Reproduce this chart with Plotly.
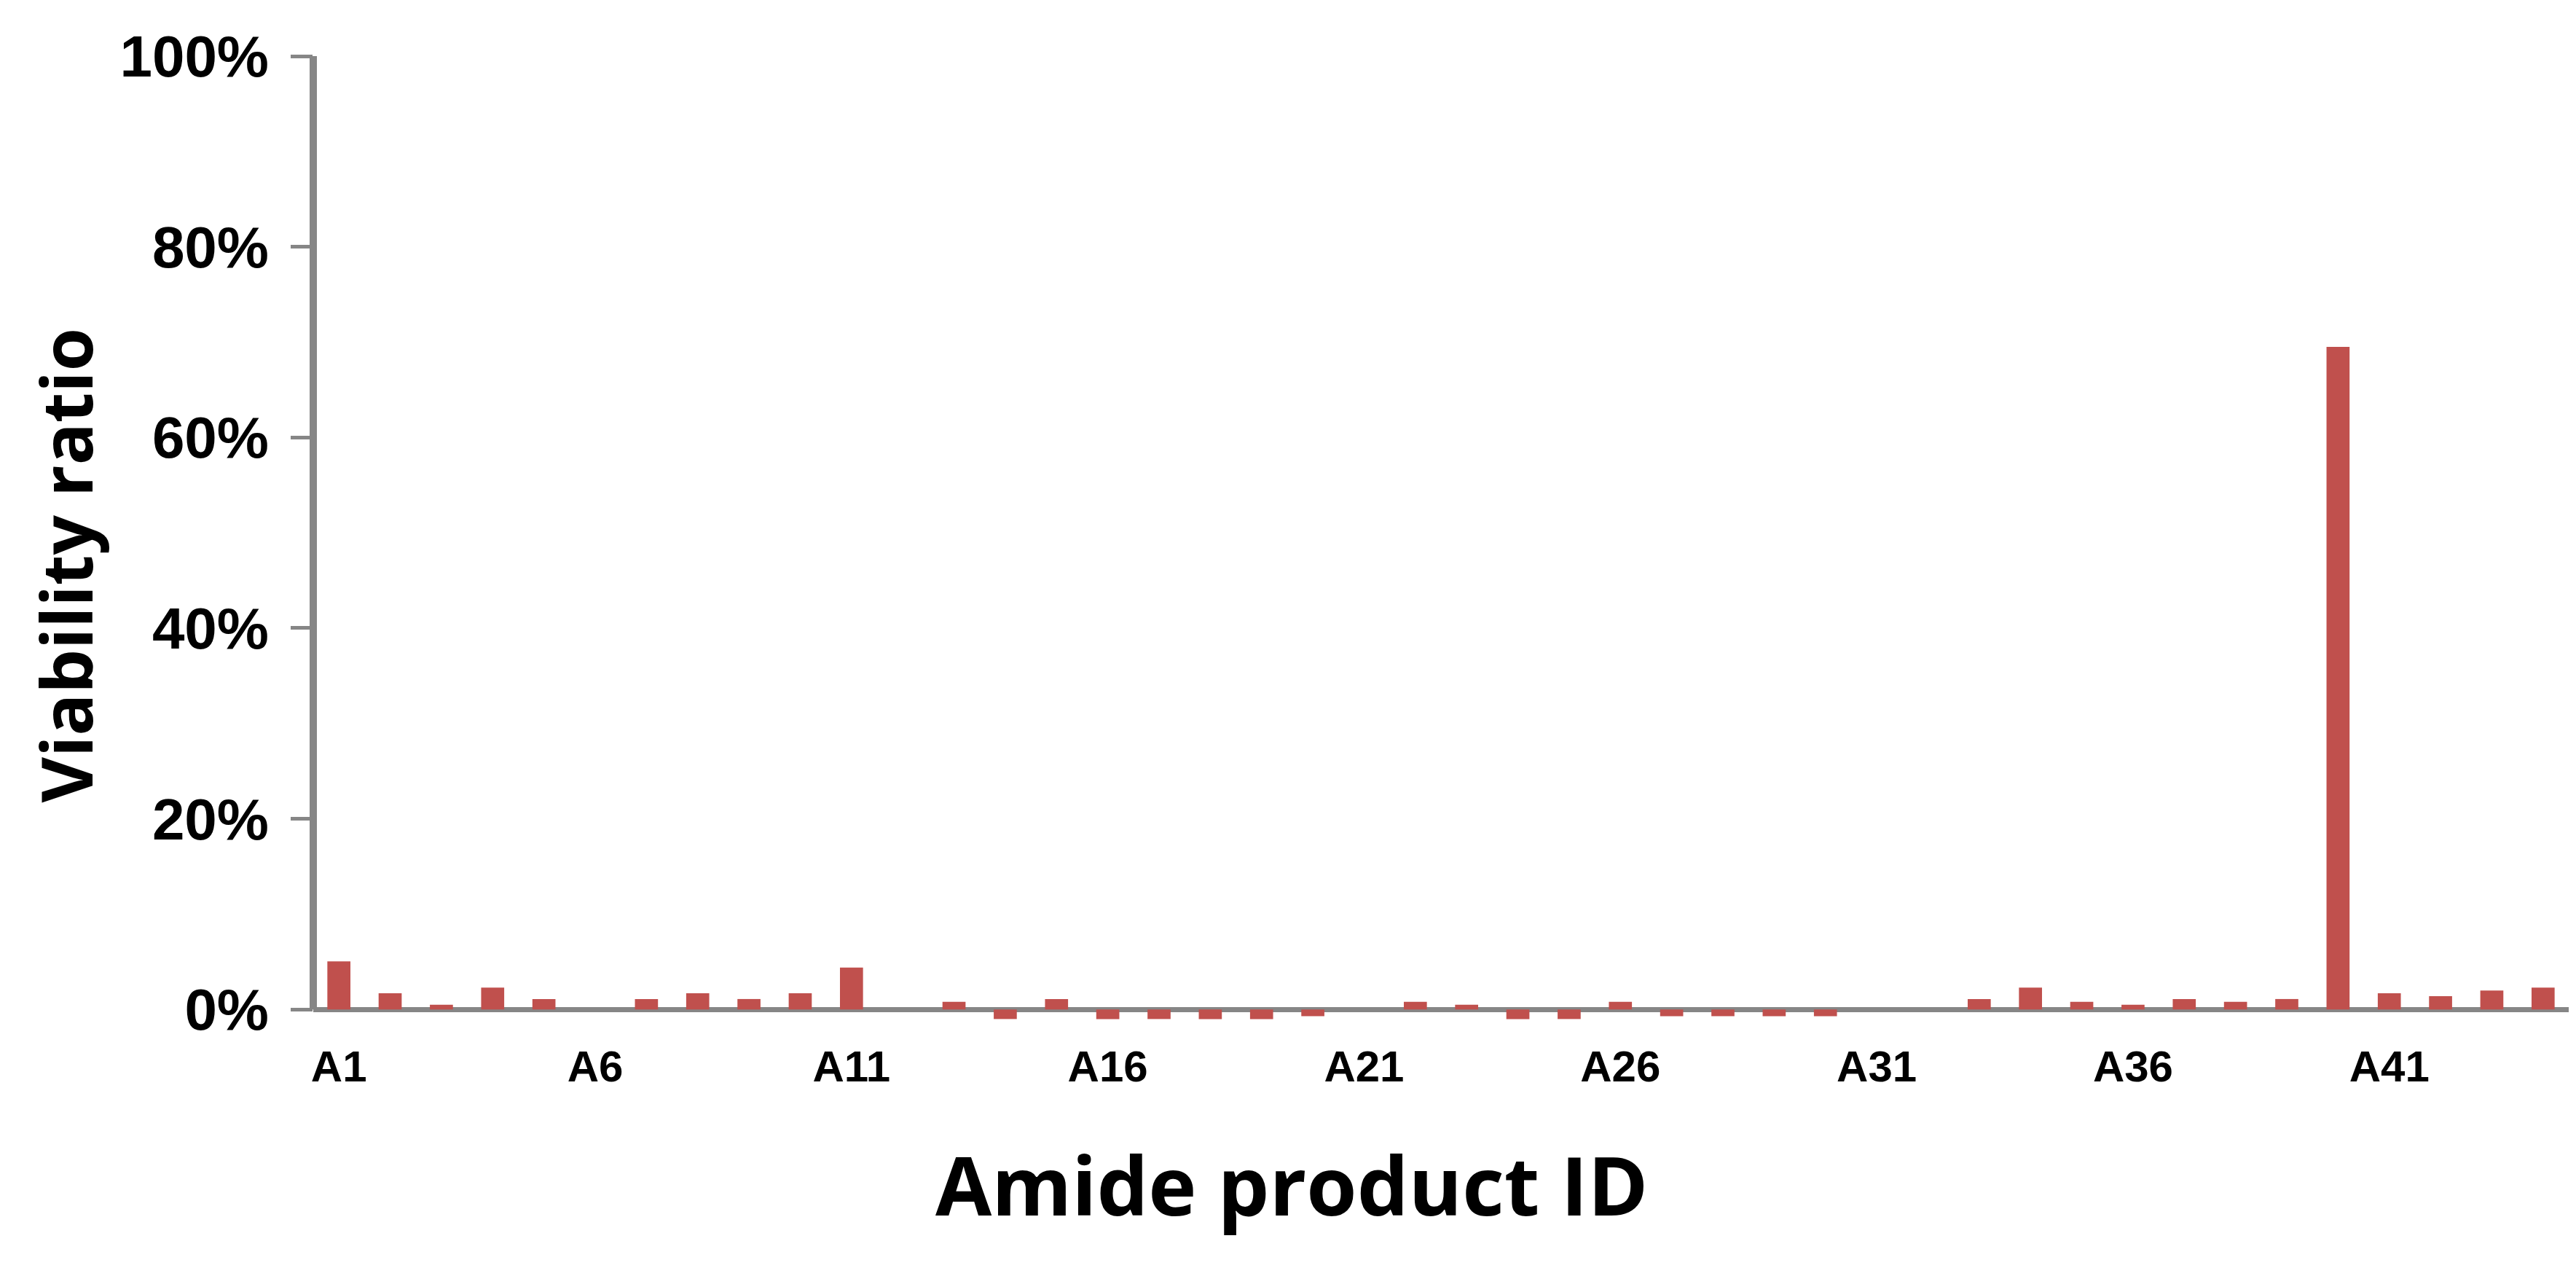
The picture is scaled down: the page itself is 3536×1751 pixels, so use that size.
import plotly.graph_objects as go

# product IDs and viability ratio (%)
products = ["A%d" % i for i in range(1, 45)]
viability = [5.05, 1.7, 0.5, 2.3, 1.1, 0, 1.1, 1.7, 1.1, 1.7,
             4.4, 0, 0.8, -1.0, 1.1, -1.0, -1.0, -1.0, -1.0, -0.7,
             0, 0.8, 0.5, -1.0, -1.0, 0.8, -0.7, -0.7, -0.7, -0.7,
             0, 0, 1.1, 2.3, 0.8, 0.5, 1.1, 0.8, 1.1, 69.5,
             1.7, 1.4, 2.0, 2.3]
x_ticks = products[::5]
y_ticks = [0, 20, 40, 60, 80, 100]
y_labels = ["0%", "20%", "40%", "60%", "80%", "100%"]

AXIS_GREY = "#868686"
BAR_RED = "#C0504D"

fig = go.Figure(go.Bar(
    x=products, y=viability,
    marker=dict(color=BAR_RED, line=dict(width=0)),
))

fig.update_layout(
    width=3536, height=1751,
    margin=dict(l=422, r=18, t=69, b=358),
    paper_bgcolor="white", plot_bgcolor="white",
    bargap=0.55,
    showlegend=False,
    xaxis=dict(
        type="category", tickmode="array", tickvals=x_ticks, ticktext=x_ticks,
        showgrid=False, showline=False, ticks="", zeroline=False,
        tickfont=dict(family="Liberation Sans", size=60, color="black", weight="bold"),
        ticklabelstandoff=22,
    ),
    yaxis=dict(
        range=[-1.2, 100], tickmode="array", tickvals=y_ticks, ticktext=y_labels,
        showgrid=False, showline=False,
        ticks="outside", ticklen=30, tickwidth=5, tickcolor=AXIS_GREY,
        zeroline=True, zerolinecolor=AXIS_GREY, zerolinewidth=7,
        tickfont=dict(family="Liberation Sans", size=80, color="black", weight="bold"),
        ticklabelstandoff=14,
    ),
)

# vertical axis line only from 0 to 100%
fig.add_shape(type="line", xref="paper", yref="y", x0=0, x1=0, y0=0, y1=100,
              line=dict(color=AXIS_GREY, width=10))

fig.add_annotation(text="Amide product ID", xref="paper", yref="paper",
                   x=0.4338, y=-0.169, showarrow=False,
                   font=dict(family="Open Sans", size=112, color="black", weight="bold"),
                   xanchor="center", yanchor="middle")
fig.add_annotation(text="Viability ratio", xref="paper", yref="paper",
                   x=-0.11, y=0.4728, showarrow=False,
                   font=dict(family="Open Sans", size=96, color="black", weight="bold"),
                   textangle=-90, xanchor="center", yanchor="middle")

fig.write_html("out.html")
